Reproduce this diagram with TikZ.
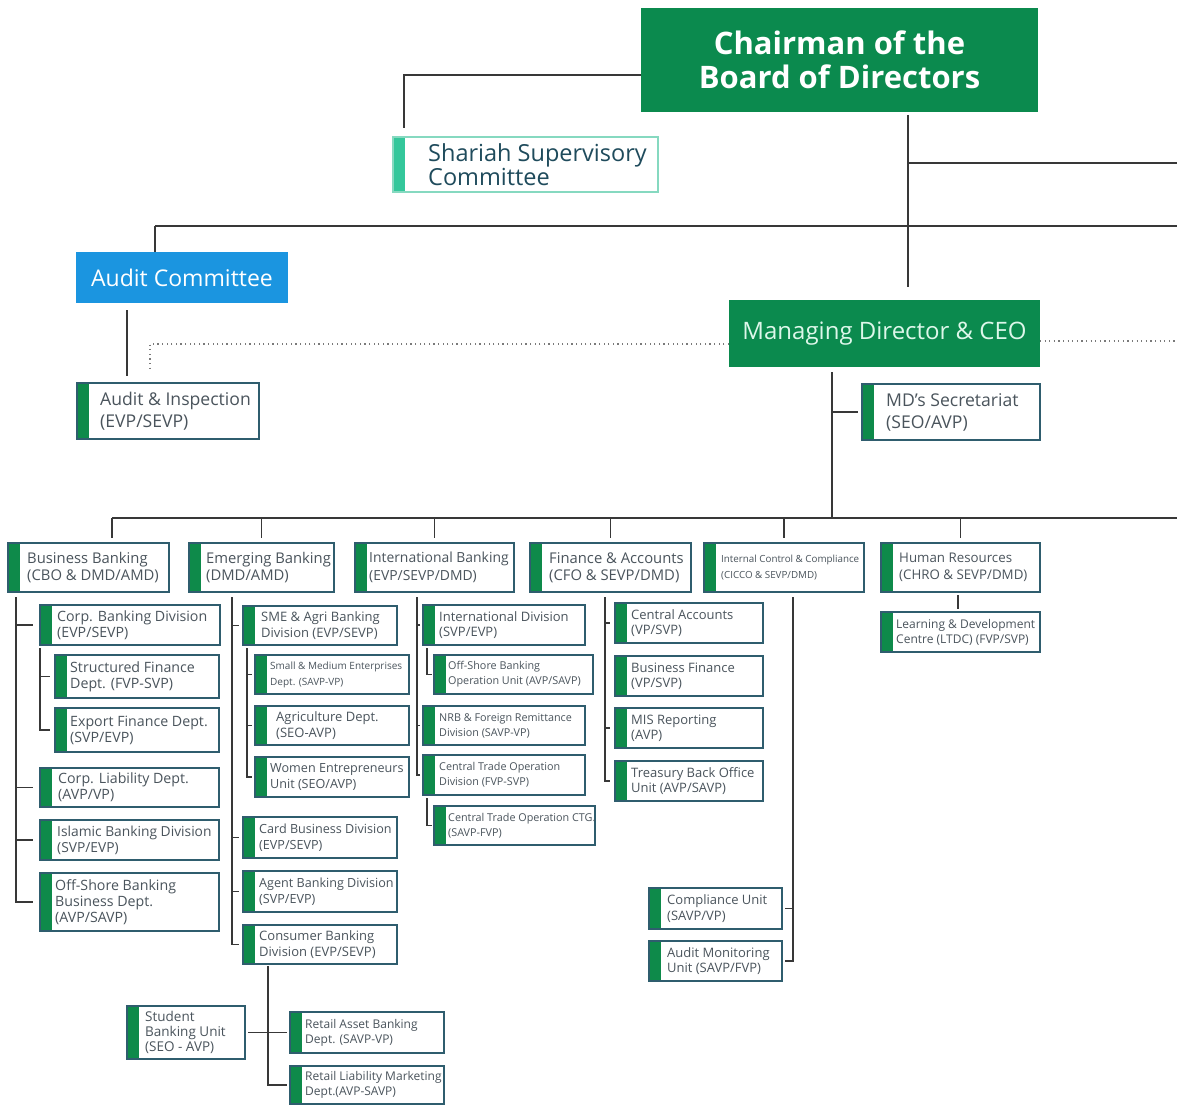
\documentclass[tikz,border=0pt]{standalone}
\usepackage{fontspec}
\setmainfont{Open Sans}
\definecolor{gr}{HTML}{0B8A4E}
\definecolor{stripe}{HTML}{0E8A4A}
\definecolor{boxc}{HTML}{2F5D6E}
\definecolor{linec}{HTML}{383838}
\definecolor{dotc}{HTML}{7A7A7A}
\definecolor{txt}{HTML}{4A545C}
\definecolor{blu}{HTML}{1B95E0}
\definecolor{mint}{HTML}{34C79B}
\definecolor{mintb}{HTML}{86D9C0}
\definecolor{shtxt}{HTML}{1F4B5C}
\definecolor{mdtxt}{HTML}{DDF7EA}
\newcommand\fntDiv{\fontsize{14.8}{17.5}\selectfont}
\newcommand\fntIB{\fontsize{13.9}{17.5}\selectfont}
\newcommand\fntHR{\fontsize{13.3}{17}\selectfont}
\newcommand\fntSub{\fontsize{14.2}{16}\selectfont}
\newcommand\fntSubB{\fontsize{13.8}{16}\selectfont}
\newcommand\fntMid{\fontsize{13}{15.5}\selectfont}
\newcommand\fntMidB{\fontsize{12.6}{15.5}\selectfont}
\newcommand\fntRet{\fontsize{12}{15}\selectfont}
\newcommand\fntSml{\fontsize{10.8}{15}\selectfont}
\newcommand\fntTny{\fontsize{10}{16}\selectfont}
\newcommand\fntTnyB{\fontsize{9.8}{16}\selectfont}
\newcommand\fntAI{\fontsize{17.6}{22}\selectfont}
\tikzset{
  conn/.style={draw=linec, line width=1.8pt},
  bus/.style={draw=linec, line width=2.6pt},
  dots/.style={draw=dotc, line width=1.4pt, dash pattern=on 1.2pt off 3.4pt},
  unit/.style={draw=boxc, line width=1.6pt, fill=white, rectangle, inner sep=0pt, outer sep=0pt,
    anchor=north west,
    path picture={\fill[stripe] (path picture bounding box.north west) rectangle ([xshift=12pt]path picture bounding box.south west);}},
  utext/.style={anchor=west, align=left, inner sep=0pt, text=txt},
}
\newcommand\ubox[8][17]{%
  \node[unit, minimum width={#5-#3}, minimum height={#6-#4}] (#2) at (#3,#4) {};
  \node[utext, font=#7] (#2-t) at ([xshift=#1pt]#2.west) {#8};
}
\begin{document}
\begin{tikzpicture}[x=1pt,y=-1pt]
\useasboundingbox (0,0) rectangle (1177,1105);
% ---------- top level ----------
\node[fill=gr, minimum width=397, minimum height=104, anchor=north west, inner sep=0pt, outer sep=0pt,
  font=\fontsize{31}{34}\selectfont\bfseries, text=white, align=center] (chair) at (641,8)
  {Chairman of the\\Board of Directors};
\node[draw=mintb, line width=1.5pt, fill=white, minimum width=265, minimum height=55, anchor=north west,
  inner sep=0pt, outer sep=0pt,
  path picture={\fill[mint] (path picture bounding box.north west) rectangle ([xshift=12pt]path picture bounding box.south west);}]
  (shariah) at (393,137) {};
\node[utext, text=shtxt, font=\fontsize{23.5}{22}\selectfont] (shariah-t) at ([xshift=35pt]shariah.west)
  {Shariah Supervisory\\Committee};
\node[fill=blu, minimum width=212, minimum height=51, anchor=north west, inner sep=0pt, outer sep=0pt,
  font=\fontsize{23}{24}\selectfont, text=white] (audit) at (76,252) {Audit Committee};
\node[fill=gr, minimum width=311, minimum height=67, anchor=north west, inner sep=0pt, outer sep=0pt,
  font=\fontsize{24}{26}\selectfont, text=mdtxt] (md) at (729,300) {Managing Director \& CEO};
\ubox[23]{ai}{77}{383}{259}{439}{\fntAI}{Audit \& Inspection\\(EVP/SEVP)}
\ubox[24]{sec}{862}{384}{1040}{440}{\fntAI}{MD’s Secretariat\\(SEO/AVP)}
% ---------- divisions ----------
\ubox[19]{bb}{8}{543}{169}{592}{\fntDiv}{Business Banking\\(CBO \& DMD/AMD)}
\ubox[17]{eb}{189}{543}{334}{592}{\fntDiv}{Emerging Banking\\(DMD/AMD)}
\ubox[14]{ib}{355}{543}{514}{592}{\fntIB}{International Banking\\(EVP/SEVP/DMD)}
\ubox[19]{fa}{530}{543}{691}{592}{\fntDiv}{Finance \& Accounts\\(CFO \& SEVP/DMD)}
\ubox[17]{ic}{704}{543}{864}{592}{\fntTnyB}{Internal Control \& Compliance\\(CICCO \& SEVP/DMD)}
\ubox[18]{hr}{881}{543}{1040}{592}{\fntHR}{Human Resources\\(CHRO \& SEVP/DMD)}
\ubox[15]{ltdc}{881}{612}{1040}{652}{\fntRet}{Learning \& Development\\Centre (LTDC) (FVP/SVP)}
% ---------- business banking ----------
\ubox[17]{cbd}{40}{605}{220}{645}{\fntSub}{Corp. Banking Division\\(EVP/SEVP)}
\ubox[15]{sfd}{55}{655}{219}{698}{\fntSub}{Structured Finance\\Dept. (FVP-SVP)}
\ubox[15]{efd}{55}{708}{219}{752}{\fntSub}{Export Finance Dept.\\(SVP/EVP)}
\ubox[18]{cld}{40}{768}{219}{807}{\fntSub}{Corp. Liability Dept.\\(AVP/VP)}
\ubox[17]{ibd}{40}{820}{219}{860}{\fntSubB}{Islamic Banking Division\\(SVP/EVP)}
\ubox[15]{osb}{40}{873}{219}{931}{\fntSub}{Off-Shore Banking\\Business Dept.\\(AVP/SAVP)}
% ---------- emerging banking ----------
\ubox[18]{sme}{243}{606}{397}{645}{\fntMid}{SME \& Agri Banking\\Division (EVP/SEVP)}
\ubox[15]{smd}{255}{655}{409}{694}{\fntTny}{Small \& Medium Enterprises\\Dept. (SAVP-VP)}
\ubox[21]{agr}{255}{706}{409}{745}{\fntMid}{Agriculture Dept.\\(SEO-AVP)}
\ubox[15]{wom}{255}{757}{409}{797}{\fntMidB}{Women Entrepreneurs\\Unit (SEO/AVP)}
\ubox[16]{card}{243}{817}{397}{858}{\fntMidB}{Card Business Division\\(EVP/SEVP)}
\ubox[16]{agent}{243}{871}{397}{912}{\fntMidB}{Agent Banking Division\\(SVP/EVP)}
\ubox[16]{cons}{243}{925}{397}{964}{\fntMid}{Consumer Banking\\Division (EVP/SEVP)}
\ubox[18]{sbu}{127}{1006}{245}{1059}{\fontsize{13.5}{15}\selectfont}{Student\\Banking Unit\\(SEO - AVP)}
\ubox[15]{rab}{290}{1012}{444}{1053}{\fntRet}{Retail Asset Banking\\Dept. (SAVP-VP)}
\ubox[15]{rlm}{290}{1066}{444}{1104}{\fntRet}{Retail Liability Marketing\\Dept.(AVP-SAVP)}
% ---------- international banking ----------
\ubox[16]{intd}{423}{605}{585}{645}{\fntMid}{International Division\\(SVP/EVP)}
\ubox[14]{osop}{434}{655}{593}{694}{\fntSml}{Off-Shore Banking\\Operation Unit (AVP/SAVP)}
\ubox[16]{nrb}{423}{706}{585}{745}{\fntSml}{NRB \& Foreign Remittance\\Division (SAVP-VP)}
\ubox[16]{cto}{423}{755}{585}{795}{\fntSml}{Central Trade Operation\\Division (FVP-SVP)}
\ubox[14]{ctg}{434}{806}{595}{845}{\fntSml}{Central Trade Operation CTG.\\(SAVP-FVP)}
% ---------- finance ----------
\ubox[16]{ca}{615}{603}{763}{643}{\fntMid}{Central Accounts\\(VP/SVP)}
\ubox[16]{bf}{615}{656}{763}{696}{\fntMid}{Business Finance\\(VP/SVP)}
\ubox[16]{mis}{615}{708}{763}{748}{\fntMid}{MIS Reporting\\(AVP)}
\ubox[16]{tbo}{615}{761}{763}{801}{\fntMid}{Treasury Back Office\\Unit (AVP/SAVP)}
% ---------- internal control ----------
\ubox[18]{comp}{649}{888}{782}{929}{\fntMid}{Compliance Unit\\(SAVP/VP)}
\ubox[18]{audm}{649}{941}{782}{981}{\fntMid}{Audit Monitoring\\Unit (SAVP/FVP)}
% ---------- connectors: top ----------
\coordinate (trunk) at (908,0);
\coordinate (eR1) at (1177,163);
\coordinate (busL) at (155,226);
\coordinate (busR) at (1177,226);
\coordinate (ax) at (127,0);
\coordinate (dL) at (150,344);
\coordinate (dLd) at (150,372);
\coordinate (dR) at (1177,341);
\coordinate (mt) at (832,0);
\coordinate (bus2L) at (112,518);
\coordinate (bus2R) at (1177,518);
\draw[conn] ([yshift=-15pt]chair.west) -| ([xshift=11pt,yshift=9pt]shariah.north west);
\draw[conn, shorten <=3pt, shorten >=13pt] (chair.south -| trunk) -- (md.north -| trunk);
\draw[conn] (trunk |- eR1) -- (eR1);
\draw[bus] (busL) -- (busR);
\draw[conn] (busL) -- (audit.north -| busL);
\draw[conn, shorten <=7pt, shorten >=7pt] (audit.south -| ax) -- (ai.north -| ax);
\draw[dots] ([yshift=-10.5pt]md.west) -- (dL) -- (dLd);
\draw[dots] ([yshift=-7.5pt]md.east) -- (dR);
\draw[conn, shorten <=5pt] (md.south -| mt) -- (mt |- bus2L);
\draw[conn, shorten >=4pt] (mt |- sec.west) -- (sec.west);
\draw[bus] (bus2L) -- (bus2R);
\draw[conn, shorten >=5pt] (bus2L) -- (bb.north -| bus2L);
\foreach \d in {eb,ib,fa,ic,hr} \draw[conn, shorten >=5pt] (\d.north |- bus2L) -- (\d.north);
% ---------- connectors: departments ----------
\coordinate (bbs) at (16,597);
\coordinate (cbs) at (40,648);
\coordinate (ebs) at (232,597);
\coordinate (sms) at (247,648);
\coordinate (ibs) at (417,597);
\coordinate (ids) at (427,648);
\coordinate (cts) at (427,798);
\coordinate (fas) at (605,597);
\coordinate (ics) at (793,597);
\coordinate (hx) at (958,0);
\coordinate (cx) at (268,0);
\foreach \c in {cbd,cld,ibd,osb} \draw[conn] (bbs) |- ([xshift=-7pt]\c.west);
\foreach \c in {sfd,efd} \draw[conn] (cbs) |- ([xshift=-5pt]\c.west);
\foreach \c in {sme,card,agent,cons} \draw[conn] (ebs) |- ([xshift=-4pt]\c.west);
\foreach \c in {smd,agr,wom} \draw[conn] (sms) |- ([xshift=-3pt]\c.west);
\foreach \c in {intd,nrb,cto} \draw[conn] (ibs) |- ([xshift=-3pt]\c.west);
\draw[conn] (ids) |- ([xshift=-2pt]osop.west);
\draw[conn] (cts) |- ([xshift=-2pt]ctg.west);
\foreach \c in {ca,mis,tbo} \draw[conn] (fas) |- ([xshift=-5pt]\c.west);
\foreach \c in {comp,audm} \draw[conn] (ics) |- ([xshift=3pt]\c.east);
\draw[conn, shorten <=3pt, shorten >=3pt] (hr.south -| hx) -- (ltdc.north -| hx);
\draw[conn, shorten <=2pt] (cons.south -| cx) |- ([xshift=-3pt]rlm.west);
\draw[conn] ([xshift=3pt]sbu.east) -- ([xshift=-3pt]rab.west);
\end{tikzpicture}
\end{document}
